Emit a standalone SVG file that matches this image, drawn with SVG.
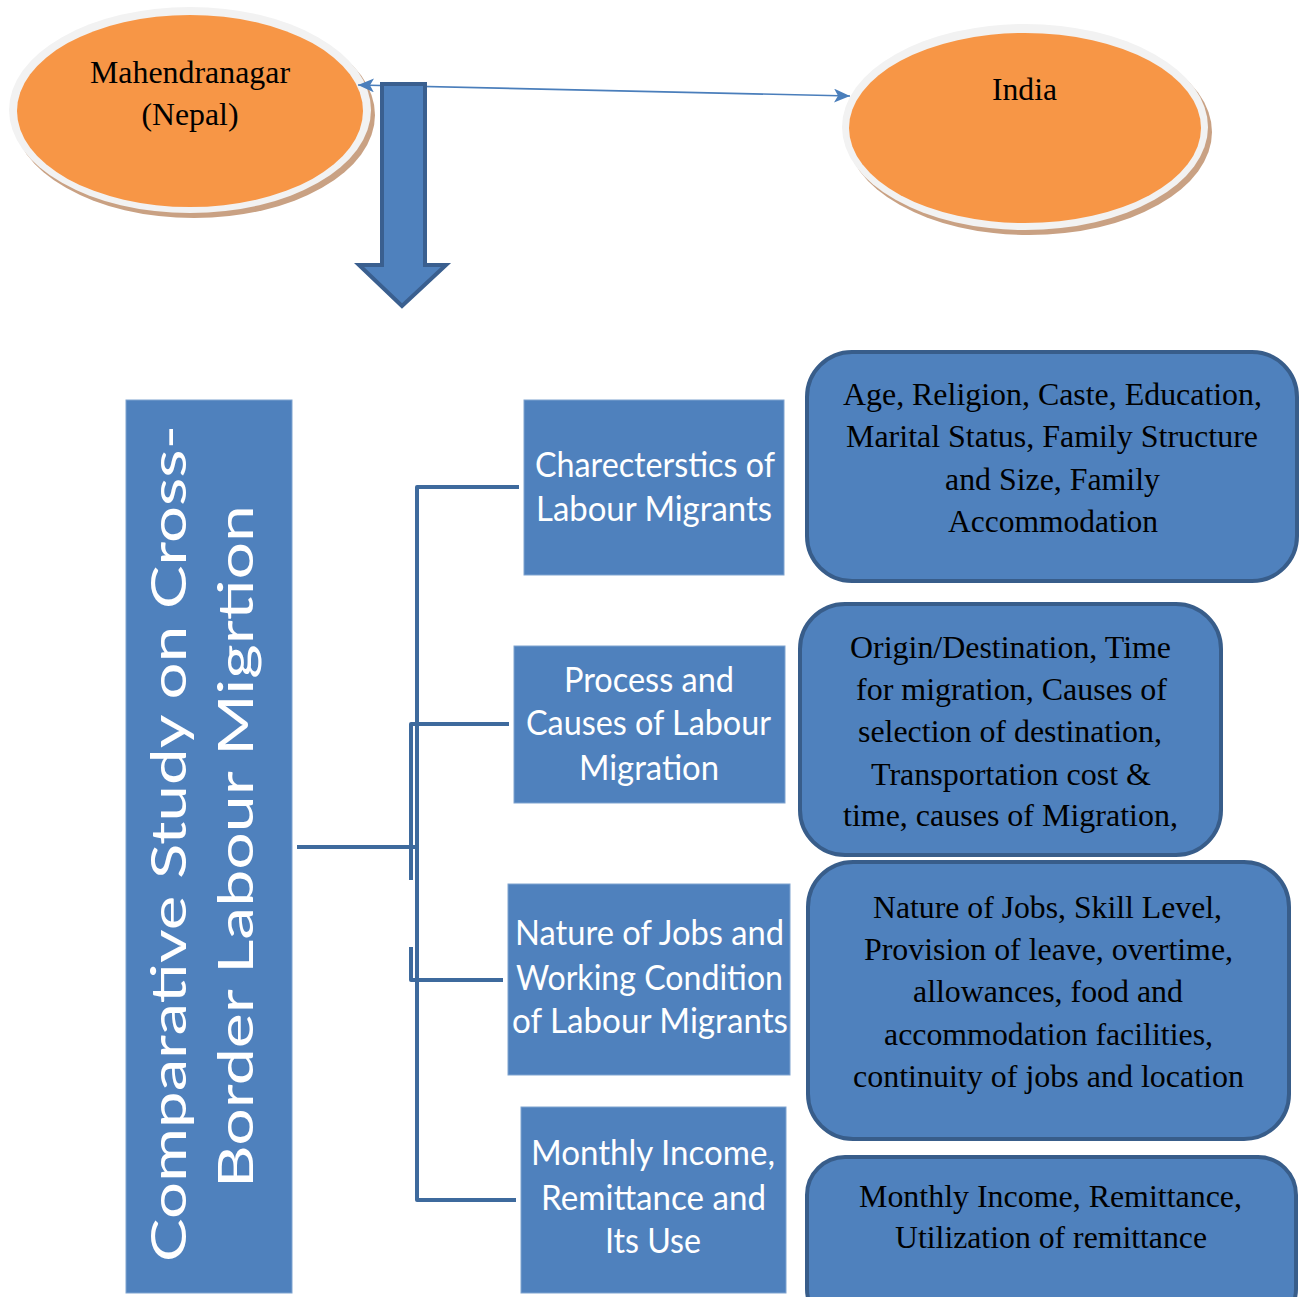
<svg xmlns="http://www.w3.org/2000/svg" width="1304" height="1297" viewBox="0 0 1304 1297">
<defs>
<style>
.box{fill:#4F81BD;stroke:#7FA3D0;stroke-width:1}
.rbox{fill:#4F81BD;stroke:#385D8A;stroke-width:4}
.st{font-family:Lato,"Open Sans",sans-serif;font-size:35px;fill:#FFFFFF;text-anchor:middle}
.sv{font-family:Lato,"Open Sans",sans-serif;font-size:48px;fill:#FFFFFF;text-anchor:middle}
.sr{font-family:"Liberation Serif","Times New Roman",serif;font-size:31px;fill:#000000;text-anchor:middle}
.conn{stroke:#3E6A9D;stroke-width:4;fill:none;stroke-linejoin:round}
.shadow{fill:#C9A183}
.rim{fill:#F2F2F2}
.orange{fill:#F79646}
</style>
<marker id="ah" viewBox="0 0 16 14" refX="16" refY="7" markerWidth="16" markerHeight="14" markerUnits="userSpaceOnUse" orient="auto-start-reverse">
<path d="M0,0 L16,7 L0,14 L4,7 Z" fill="#4A7EBB"/>
</marker>
</defs>
<rect width="1304" height="1297" fill="#FFFFFF"/>

<g id="nepal">
<ellipse class="shadow" cx="194" cy="115" rx="181" ry="103"/>
<ellipse class="rim" cx="190" cy="110" rx="181" ry="103"/>
<ellipse class="orange" cx="190" cy="111" rx="173" ry="96"/>
<text class="sr" x="190" y="83" textLength="200" lengthAdjust="spacingAndGlyphs">Mahendranagar</text>
<text class="sr" x="190" y="125" textLength="97" lengthAdjust="spacingAndGlyphs">(Nepal)</text>
</g>

<g id="india">
<ellipse class="shadow" cx="1029" cy="132" rx="183" ry="103"/>
<ellipse class="rim" cx="1025" cy="127" rx="183" ry="103"/>
<ellipse class="orange" cx="1025" cy="128" rx="176" ry="95"/>
<text class="sr" x="1024.5" y="100" textLength="65" lengthAdjust="spacingAndGlyphs">India</text>
</g>

<g id="connectors">
<line x1="358" y1="85" x2="850" y2="96" stroke="#4A7EBB" stroke-width="1.6" marker-start="url(#ah)" marker-end="url(#ah)"/>
<path class="conn" d="M297,847 H417"/>
<path class="conn" d="M519,487 H417 V1200 H516"/>
<path class="conn" d="M509,724 H411 V880"/>
<path class="conn" d="M411,947 V980 H503"/>
</g>

<g id="down-arrow">
<path d="M382,84 L425,84 L425,265 L446,265 L402,306 L359,265 L382,265 Z" fill="#4F81BD" stroke="#3A5F8F" stroke-width="4" stroke-linejoin="miter"/>
</g>

<g id="title">
<rect class="box" x="126" y="400" width="166" height="893"/>
<text class="sv" transform="translate(186,843.5) rotate(-90)" x="0" y="0" textLength="837" lengthAdjust="spacingAndGlyphs">Comparative Study on Cross-</text>
<text class="sv" transform="translate(253,846.5) rotate(-90)" x="0" y="0" textLength="683" lengthAdjust="spacingAndGlyphs">Border Labour Migrtion</text>
</g>

<g id="characteristics">
<rect class="box" x="524" y="400" width="260" height="175"/>
<text class="st" x="655" y="477" textLength="240" lengthAdjust="spacingAndGlyphs">Charecterstics of</text>
<text class="st" x="654" y="521" textLength="236" lengthAdjust="spacingAndGlyphs">Labour Migrants</text>
</g>

<g id="process">
<rect class="box" x="514" y="646" width="271" height="157"/>
<text class="st" x="649" y="692" textLength="170" lengthAdjust="spacingAndGlyphs">Process and</text>
<text class="st" x="648.5" y="735" textLength="245" lengthAdjust="spacingAndGlyphs">Causes of Labour</text>
<text class="st" x="649" y="780" textLength="140" lengthAdjust="spacingAndGlyphs">Migration</text>
</g>

<g id="nature">
<rect class="box" x="508" y="884" width="282" height="191"/>
<text class="st" x="649.5" y="945" textLength="269" lengthAdjust="spacingAndGlyphs">Nature of Jobs and</text>
<text class="st" x="649.5" y="990" textLength="267" lengthAdjust="spacingAndGlyphs">Working Condition</text>
<text class="st" x="650" y="1033" textLength="276" lengthAdjust="spacingAndGlyphs">of Labour Migrants</text>
</g>

<g id="income">
<rect class="box" x="521" y="1107" width="265" height="186"/>
<text class="st" x="653" y="1165" textLength="244" lengthAdjust="spacingAndGlyphs">Monthly Income,</text>
<text class="st" x="653.5" y="1210" textLength="225" lengthAdjust="spacingAndGlyphs">Remittance and</text>
<text class="st" x="653" y="1253" textLength="96" lengthAdjust="spacingAndGlyphs">Its Use</text>
</g>

<g id="detail-characteristics">
<rect class="rbox" x="807" y="352" width="490" height="229" rx="45" ry="45"/>
<text class="sr" x="1052.5" y="405" textLength="419" lengthAdjust="spacingAndGlyphs">Age, Religion, Caste, Education,</text>
<text class="sr" x="1052" y="447" textLength="412" lengthAdjust="spacingAndGlyphs">Marital Status, Family Structure</text>
<text class="sr" x="1052.5" y="490" textLength="215" lengthAdjust="spacingAndGlyphs">and Size, Family</text>
<text class="sr" x="1053" y="532" textLength="210" lengthAdjust="spacingAndGlyphs">Accommodation</text>
</g>

<g id="detail-process">
<rect class="rbox" x="800" y="604" width="421" height="251" rx="45" ry="45"/>
<text class="sr" x="1010.5" y="658" textLength="321" lengthAdjust="spacingAndGlyphs">Origin/Destination, Time</text>
<text class="sr" x="1011.5" y="700" textLength="311" lengthAdjust="spacingAndGlyphs">for migration, Causes of</text>
<text class="sr" x="1010" y="742" textLength="304" lengthAdjust="spacingAndGlyphs">selection of destination,</text>
<text class="sr" x="1011" y="785" textLength="280" lengthAdjust="spacingAndGlyphs">Transportation cost &amp;</text>
<text class="sr" x="1010.5" y="826" textLength="335" lengthAdjust="spacingAndGlyphs">time, causes of Migration,</text>
</g>

<g id="detail-nature">
<rect class="rbox" x="808" y="862" width="481" height="277" rx="45" ry="45"/>
<text class="sr" x="1047.5" y="918" textLength="349" lengthAdjust="spacingAndGlyphs">Nature of Jobs, Skill Level,</text>
<text class="sr" x="1048.5" y="960" textLength="369" lengthAdjust="spacingAndGlyphs">Provision of leave, overtime,</text>
<text class="sr" x="1048" y="1002" textLength="270" lengthAdjust="spacingAndGlyphs">allowances, food and</text>
<text class="sr" x="1048.5" y="1045" textLength="329" lengthAdjust="spacingAndGlyphs">accommodation facilities,</text>
<text class="sr" x="1048.5" y="1087" textLength="391" lengthAdjust="spacingAndGlyphs">continuity of jobs and location</text>
</g>

<g id="detail-income">
<rect class="rbox" x="807" y="1157" width="489" height="170" rx="38" ry="38"/>
<text class="sr" x="1050.5" y="1207" textLength="383" lengthAdjust="spacingAndGlyphs">Monthly Income, Remittance,</text>
<text class="sr" x="1051" y="1248" textLength="312" lengthAdjust="spacingAndGlyphs">Utilization of remittance</text>
</g>
</svg>
